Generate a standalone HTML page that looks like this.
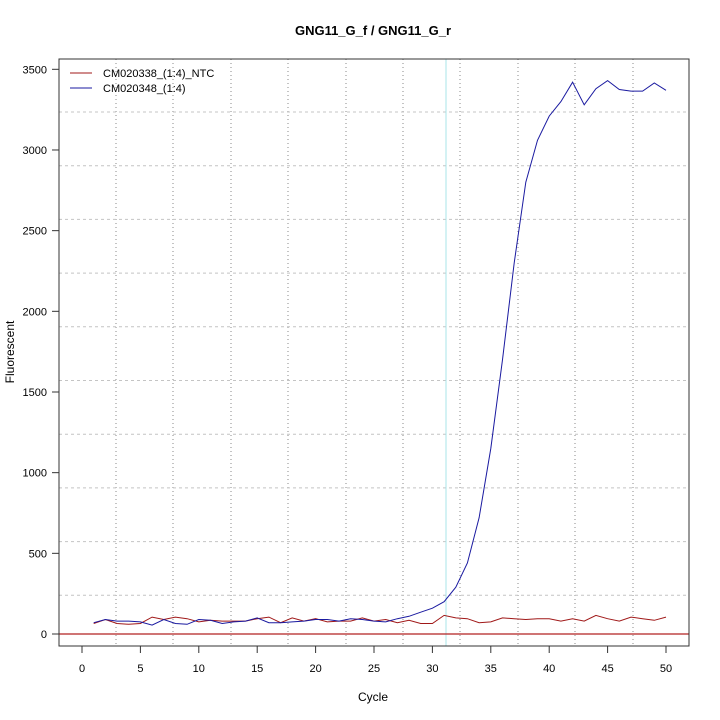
<!DOCTYPE html>
<html><head><meta charset="utf-8"><style>
html,body{margin:0;padding:0;background:#fff}
svg{display:block;font-family:"Liberation Sans",sans-serif}
</style></head><body>
<svg id="s" width="720" height="720" viewBox="0 0 720 720" xmlns="http://www.w3.org/2000/svg">
<rect width="720" height="720" fill="#fff"/>
<g id="grid"></g>
<line x1="446" y1="59" x2="446" y2="646" stroke="#a8e4ea" stroke-width="1"/>
<line x1="59" y1="634" x2="689" y2="634" stroke="#b22222" stroke-width="1.3"/>
<polyline id="red" fill="none" stroke="#a01818" stroke-width="1"/>
<polyline id="blue" fill="none" stroke="#1a1aa0" stroke-width="1"/>
<rect x="59" y="59" width="630" height="587" fill="none" stroke="#333" stroke-width="1"/>
<g id="ticks" stroke="#333"></g>
<g id="labels" font-size="11" fill="#000"></g>
<text x="373" y="35" font-size="13" font-weight="bold" text-anchor="middle">GNG11_G_f / GNG11_G_r</text>
<text x="373" y="701" font-size="12" text-anchor="middle">Cycle</text>
<text transform="translate(14,352) rotate(-90)" font-size="12" text-anchor="middle">Fluorescent</text>
<line x1="70" y1="73" x2="92" y2="73" stroke="#a01818"/>
<line x1="70" y1="88" x2="92" y2="88" stroke="#1a1aa0"/>
<text x="103" y="77" font-size="11">CM020338_(1:4)_NTC</text>
<text x="103" y="92" font-size="11">CM020348_(1:4)</text>
</svg>
<script>
var X=function(c){return 82+c*11.68},Y=function(v){return 634-v*0.16134};
var blue=[70,90,80,80,75,55,90,65,60,90,85,65,75,80,100,70,70,75,80,90,90,80,95,90,80,75,95,110,135,160,200,290,440,720,1150,1700,2300,2800,3060,3210,3300,3420,3280,3380,3430,3375,3365,3365,3415,3370];
var red=[65,90,65,60,65,105,90,105,95,75,85,80,80,80,95,105,70,100,80,95,75,80,80,100,80,90,70,85,65,65,115,100,95,70,75,100,95,90,95,95,80,95,80,115,95,80,105,95,85,105];
function pts(a){return a.map(function(v,i){return X(i+1).toFixed(1)+","+Y(v).toFixed(1)}).join(" ")}
document.getElementById("blue").setAttribute("points",pts(blue));
document.getElementById("red").setAttribute("points",pts(red));
var ns="http://www.w3.org/2000/svg",g=document.getElementById("grid"),t=document.getElementById("ticks"),l=document.getElementById("labels");
function ln(p,a,b,c,d,s,da){var e=document.createElementNS(ns,"line");e.setAttribute("x1",a);e.setAttribute("y1",b);e.setAttribute("x2",c);e.setAttribute("y2",d);e.setAttribute("stroke",s);if(da)e.setAttribute("stroke-dasharray",da);p.appendChild(e)}
function tx(x,y,s,anc){var e=document.createElementNS(ns,"text");e.setAttribute("x",x);e.setAttribute("y",y);e.setAttribute("text-anchor",anc);e.textContent=s;l.appendChild(e)}
var vx=[116,173,231,288,346,403,460,518,575,633];
vx.forEach(function(x){ln(g,x,59,x,646,"#888","1,3")});
for(var i=0;i<10;i++){var y=112+i*53.7;ln(g,59,y,689,y,"#c4c4c4","3,3")}
for(var c=0;c<=50;c+=5){var x=X(c);ln(t,x,646,x,653,"#333");tx(x,672,String(c),"middle")}
for(var v=0;v<=3500;v+=500){var y=Y(v);ln(t,52,y,59,y,"#333");tx(47,y+4,String(v),"end")}
</script>
</body></html>
